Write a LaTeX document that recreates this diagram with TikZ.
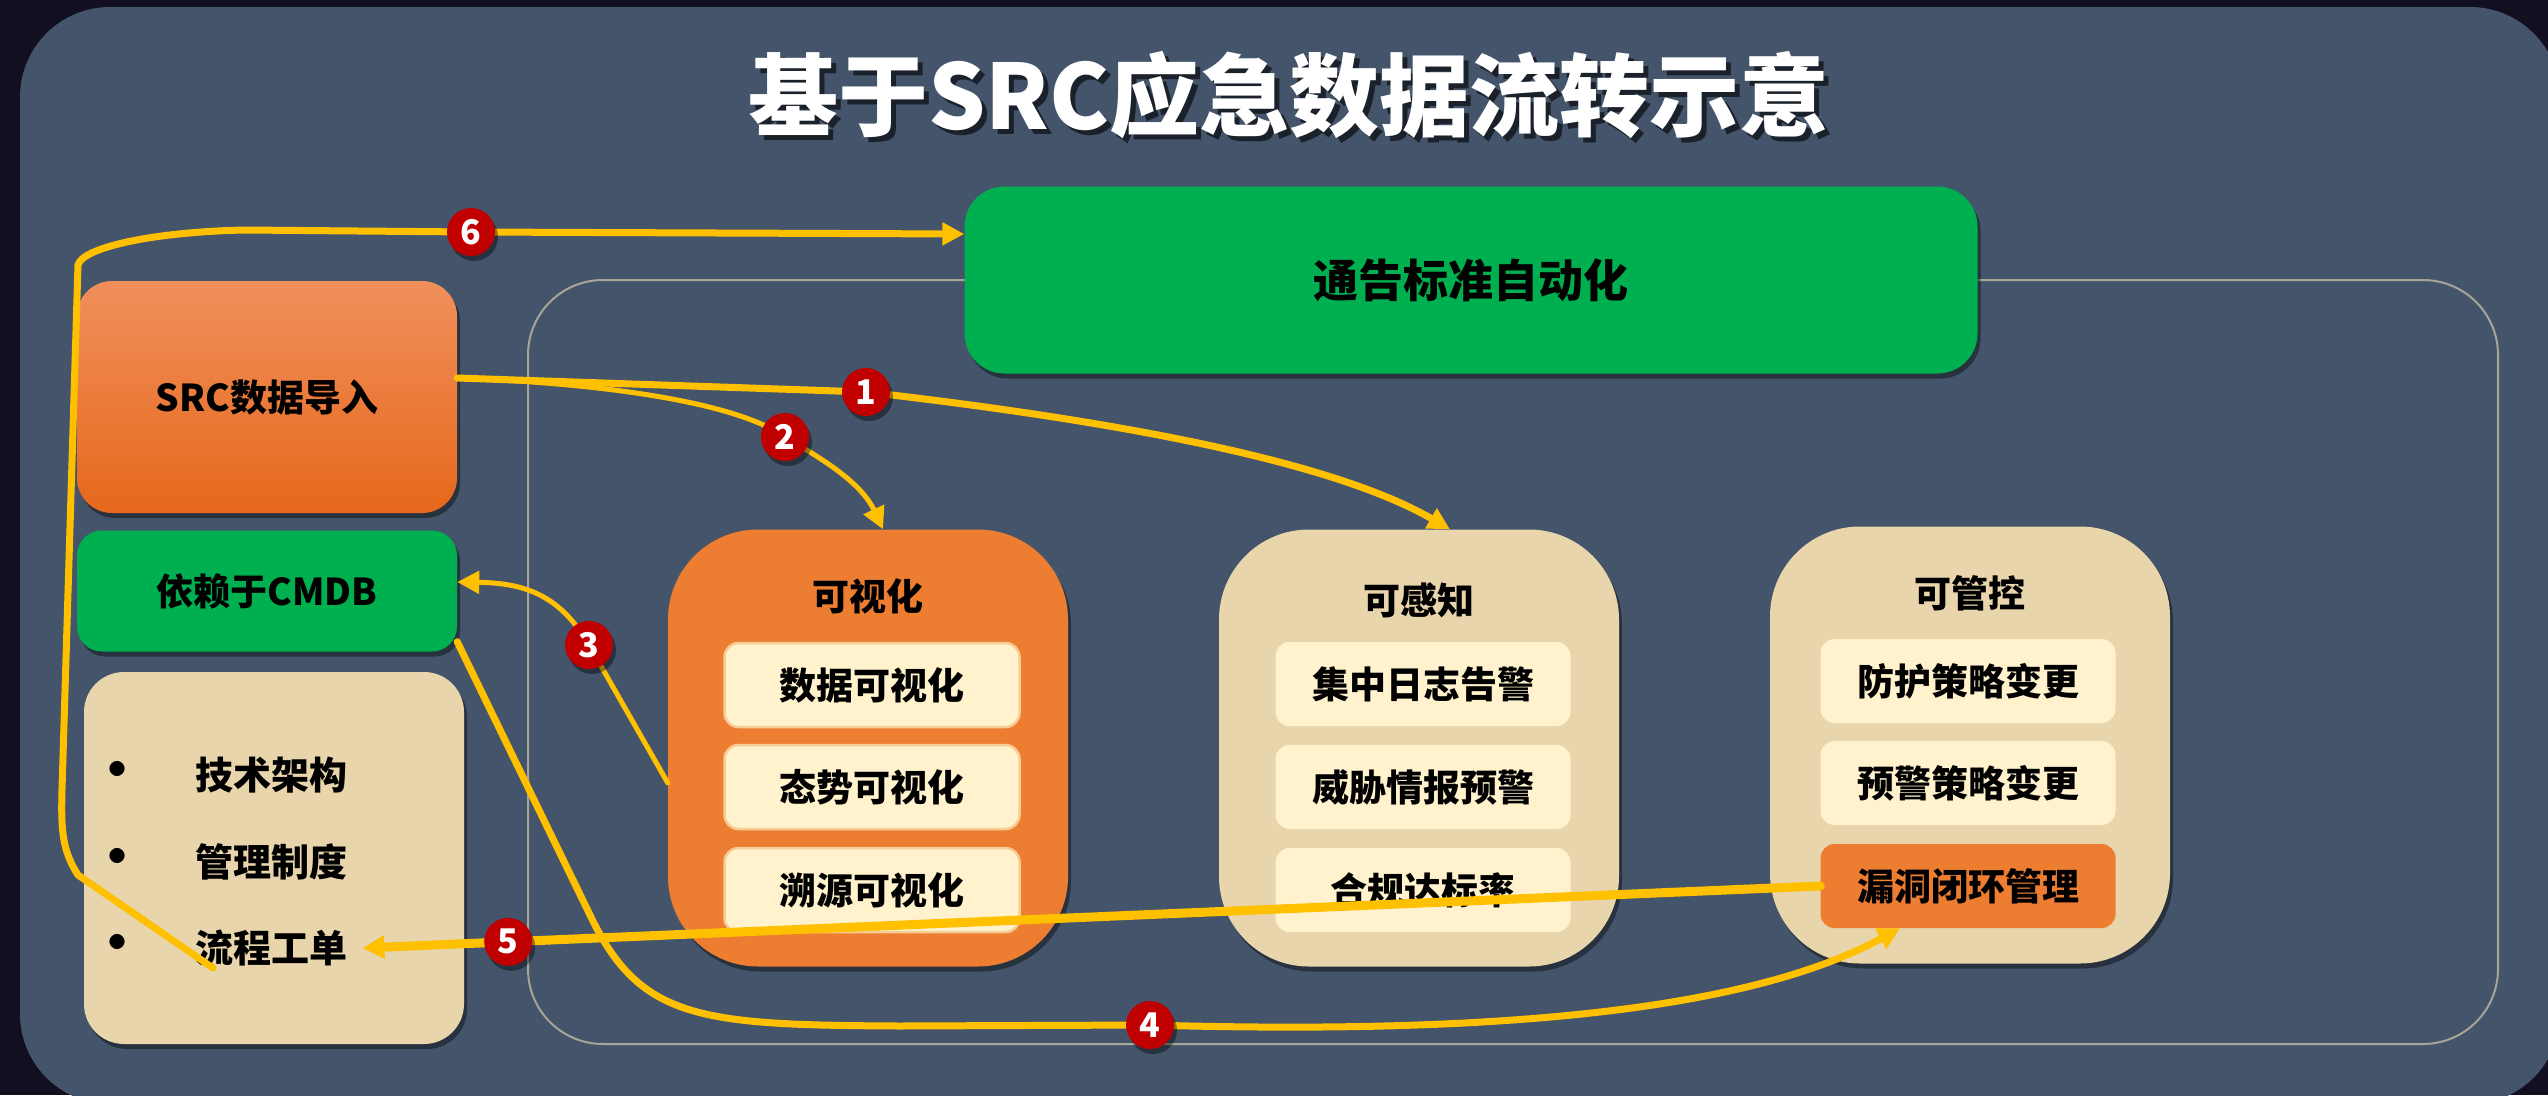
\documentclass[tikz,border=0pt]{standalone}
\usepackage{fontspec}
\setmainfont{Noto Sans CJK SC}
\usetikzlibrary{shapes,arrows.meta,positioning,calc,shadows}
\definecolor{nightbg}{HTML}{121020}
\definecolor{slatebg}{HTML}{44546A}
\definecolor{srcgreen}{HTML}{00B050}
\definecolor{srcorange}{HTML}{ED7D31}
\definecolor{orangetop}{HTML}{F08F5C}
\definecolor{orangebot}{HTML}{E6681B}
\definecolor{sand}{HTML}{E8D5AC}
\definecolor{cream}{HTML}{FFF2CC}
\definecolor{creamedge}{HTML}{F4CE96}
\definecolor{flowgold}{HTML}{FFC000}
\definecolor{badgered}{HTML}{C00000}
\definecolor{framegray}{HTML}{A7A595}
\newcommand{\cnsize}[1]{\fontsize{#1pt}{#1pt}\selectfont\bfseries}

\begin{document}
\begin{tikzpicture}[x=1pt, y=-1pt,
    softshadow/.style={drop shadow={shadow xshift=3pt, shadow yshift=-5pt, opacity=0.4, fill=black}},
    panelbox/.style={rounded corners=35pt, minimum width=380pt, inner sep=0pt, align=center, font=\cnsize{37}, softshadow},
    column/.style={rounded corners=90pt, minimum width=400pt, minimum height=437pt, fill=sand, softshadow},
    colhead/.style={font=\cnsize{37}, inner sep=0pt},
    subbox/.style={rounded corners=14pt, minimum width=295pt, minimum height=84pt, inner sep=0pt, fill=cream, font=\cnsize{37}},
    itemtext/.style={anchor=west, inner sep=0pt, font=\cnsize{38}},
    bulletdot/.style={inner sep=0pt, font=\cnsize{54}},
    badge/.style={circle, fill=badgered, minimum size=48pt, inner sep=0pt, text=white, font=\cnsize{34}, softshadow},
    flow/.style={draw=flowgold, line width=7pt, line cap=round, -{Triangle[length=22pt,width=22pt]}}]

    % Page and panel
    \useasboundingbox (0,0) rectangle (2548,1095);
    \clip (0,0) rectangle (2548,1095);
    \fill[nightbg] (0,0) rectangle (2548,1095);
    \fill[slatebg, rounded corners=90pt] (20,7) rectangle (2560,1104);

    % Title
    \node[font=\cnsize{90}, text=black, opacity=0.6] (titleshade) at (1294,100) {基于SRC应急数据流转示意};
    \node[font=\cnsize{90}, text=white] (title) at (1289,95) {基于SRC应急数据流转示意};

    % Frame round the three columns
    \draw[framegray, line width=2pt, rounded corners=75pt] (528,280) rectangle (2498,1044);

    % Notice automation
    \node[panelbox, fill=srcgreen, minimum width=1013pt, minimum height=187pt, rounded corners=40pt, font=\cnsize{45}] (notice) at (1471,280) {通告标准自动化};

    % Left stack
    \node[panelbox, top color=orangetop, bottom color=orangebot, minimum height=232pt] (src) at (267,397) {SRC数据导入};
    \node[panelbox, fill=srcgreen, minimum height=121pt, rounded corners=25pt] (cmdb) at (267,591) {依赖于CMDB};
    \node[panelbox, fill=sand, minimum height=372pt, rounded corners=40pt] (basis) at (274,858) {};
    \node[bulletdot] (techdot) at (117,775) {•};
    \node[itemtext] (tech) at (195,775) {技术架构};
    \node[bulletdot] (ruledot) at (117,862) {•};
    \node[itemtext] (rule) at (195,862) {管理制度};
    \node[bulletdot] (flowdot) at (117,948) {•};
    \node[itemtext] (flow) at (195,948) {流程工单};

    % Visualise
    \node[column, fill=srcorange] (vis) at (868,748) {};
    \node[colhead] (vishead) at (868,596) {可视化};
    \node[subbox, draw=creamedge, line width=2.5pt] (visdata) at (872,685) {数据可视化};
    \node[subbox, draw=creamedge, line width=2.5pt] (vistrend) at (872,787) {态势可视化};
    \node[subbox, draw=creamedge, line width=2.5pt] (vistrace) at (872,890) {溯源可视化};

    % Sense
    \node[column] (sense) at (1419,748) {};
    \node[colhead] (sensehead) at (1419,600) {可感知};
    \node[subbox] (senselog) at (1423,684) {集中日志告警};
    \node[subbox] (senseintel) at (1423,787) {威胁情报预警};
    \node[subbox] (sensecomp) at (1423,890) {合规达标率};

    % Control
    \node[column] (ctrl) at (1970,745) {};
    \node[colhead] (ctrlhead) at (1970,593) {可管控};
    \node[subbox] (ctrlguard) at (1968,681) {防护策略变更};
    \node[subbox] (ctrlalert) at (1968,783) {预警策略变更};
    \node[subbox, fill=srcorange] (leak) at (1968,886) {漏洞闭环管理};

    % Badge places
    \coordinate (p1) at (866,392);
    \coordinate (p2) at (785,437);
    \coordinate (p3) at (589,645);
    \coordinate (p4) at (1150,1025);
    \coordinate (p5) at ($(leak.west)!0.9!([xshift=15pt]flow.east)$);
    \coordinate (p6) at (471,232);

    % Flows
    \draw[flow] ([yshift=19pt]src.east) -- (p1) .. controls (1110,420) and (1330,460) .. ([xshift=31pt]sense.north);
    \draw[flow, line width=5pt] ([yshift=19pt]src.east) .. controls (620,384) and (740,405) .. (p2) .. controls (815,455) and (860,480) .. ([xshift=15pt]vis.north);
    \draw[flow, line width=5pt] ([yshift=-35pt]vis.west) -- (p3) .. controls (560,595) and (525,583) .. ([yshift=9pt]cmdb.east);
    \draw[flow] ([yshift=10pt]cmdb.south east) -- (590,915) .. controls (640,1020) and (700,1025) .. (900,1026) -- (p4) .. controls (1500,1035) and (1750,1010) .. ([xshift=-68pt]leak.south);
    \draw[flow, line width=9pt] (leak.west) -- ([xshift=15pt]flow.east);
    \draw[flow] ([xshift=18pt,yshift=-20pt]flow.west) -- (78,875) .. controls (62,850) and (61,830) .. (62,790) -- (78,265) .. controls (82,248) and (150,232) .. (245,230) -- (p6) -- ([yshift=46pt]notice.west);

    % Badges
    \node[badge] (b1) at (p1) {1};
    \node[badge] (b2) at (p2) {2};
    \node[badge] (b3) at (p3) {3};
    \node[badge] (b4) at (p4) {4};
    \node[badge] (b5) at (p5) {5};
    \node[badge] (b6) at (p6) {6};
\end{tikzpicture}
\end{document}
